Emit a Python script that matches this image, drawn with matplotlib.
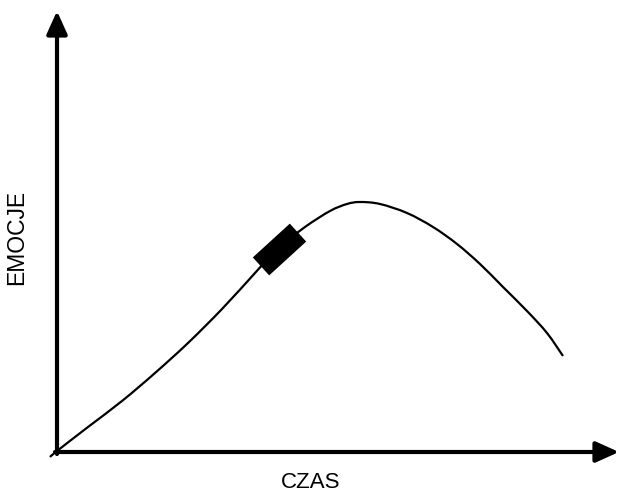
import numpy as np
import matplotlib
matplotlib.use('Agg')
import matplotlib.pyplot as plt
from matplotlib.path import Path
from matplotlib.patches import PathPatch

# curve (pixel-like units, y grows downwards)
czas = [50, 57, 88, 122, 155, 188, 222, 255, 265, 280, 305, 330, 347, 360,
        380, 407, 433, 457, 480, 503, 527, 547, 563]
emocje = [457, 451, 427, 401, 373, 343, 309, 273, 262, 247, 227, 211, 204, 202,
          204, 213, 227, 244, 264, 287, 311, 333, 356]

# black block sitting on the curve
blok_x = [261, 298]

# axes: origin and arrow ends
origin = (57, 452)
x_end = 619
y_end = 11

plt.rcParams['font.family'] = ['Liberation Sans', 'DejaVu Sans']

fig = plt.figure(figsize=(6.19, 4.97), dpi=100)
ax = fig.add_axes([0, 0, 1, 1])
ax.set_xlim(0, 619)
ax.set_ylim(497, 0)
ax.axis('off')

arrow = dict(arrowstyle='-|>,head_length=1.0,head_width=0.45', color='black',
             lw=3, shrinkA=0, shrinkB=0, mutation_scale=14)
ax.annotate('', xy=(x_end, origin[1]), xytext=(origin[0] - 2, origin[1]),
            arrowprops=arrow)
ax.annotate('', xy=(origin[0], y_end), xytext=(origin[0], origin[1] + 2),
            arrowprops=arrow)

# smooth curve through the points (catmull-rom as bezier segments)
pts = np.column_stack([czas, emocje]).astype(float)
verts = [pts[0]]
codes = [Path.MOVETO]
for i in range(len(pts) - 1):
    p0 = pts[max(i - 1, 0)]
    p1 = pts[i]
    p2 = pts[i + 1]
    p3 = pts[min(i + 2, len(pts) - 1)]
    verts += [p1 + (p2 - p0) / 6, p2 - (p3 - p1) / 6, p2]
    codes += [Path.CURVE4] * 3
ax.add_patch(PathPatch(Path(verts, codes), fill=False, color='black', lw=1.6))

blok_y = np.interp(blok_x, czas, emocje)
ax.plot(blok_x, blok_y, color='black', lw=17.5, solid_capstyle='butt')

ax.text(311, 483, 'CZAS', ha='center', va='center', fontsize=16)
ax.text(17, 237, 'EMOCJE', ha='center', va='center', rotation=90, fontsize=16.5)

fig.savefig('out.png', dpi=100)
